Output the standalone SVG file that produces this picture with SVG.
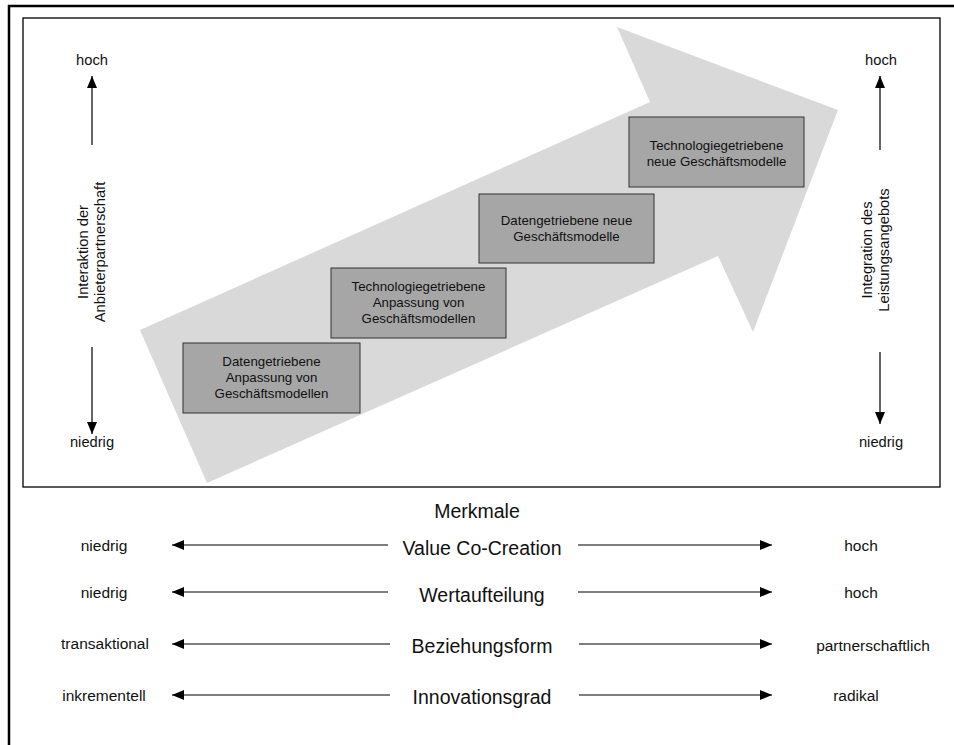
<svg xmlns="http://www.w3.org/2000/svg" width="954" height="745" viewBox="0 0 954 745">
<defs>
<style>
text{font-family:"Liberation Sans",Arial,sans-serif;fill:#111;}
.box{fill:#a6a6a6;stroke:#333;stroke-width:1;}
.bt{font-size:13.3px;text-anchor:middle;}
.ax{font-size:14.7px;text-anchor:middle;}
.lb{font-size:15.5px;text-anchor:middle;}
.mk{font-size:19.5px;text-anchor:middle;}
.ln{stroke:#000;stroke-width:1.2;fill:none;marker-end:url(#ah);}
</style>
<marker id="ah" markerUnits="userSpaceOnUse" markerWidth="12" markerHeight="10" refX="12" refY="5" orient="auto">
<path d="M0,0 L12,5 L0,10 z" fill="#000"/>
</marker>
</defs>
<rect width="954" height="745" fill="#fff"/>
<rect x="9" y="6" width="1000" height="800" fill="none" stroke="#000" stroke-width="2.5"/>
<rect x="23" y="18" width="917" height="469" fill="none" stroke="#000" stroke-width="1.3"/>
<g id="big-arrow">
<polygon points="140,330 650,102 617,27 838,110 753,332 718,256 207,483" fill="#d9d9d9"/>
</g>
<g id="box1">
<rect class="box" x="183" y="343" width="177" height="70"/>
<text class="bt" x="271.5" y="366">Datengetriebene</text>
<text class="bt" x="271.5" y="382">Anpassung von</text>
<text class="bt" x="271.5" y="398">Geschäftsmodellen</text>
</g>
<g id="box2">
<rect class="box" x="331" y="268" width="175" height="70"/>
<text class="bt" x="418.5" y="291">Technologiegetriebene</text>
<text class="bt" x="418.5" y="307">Anpassung von</text>
<text class="bt" x="418.5" y="323">Geschäftsmodellen</text>
</g>
<g id="box3">
<rect class="box" x="479" y="194" width="175" height="69"/>
<text class="bt" x="566.5" y="225">Datengetriebene neue</text>
<text class="bt" x="566.5" y="241">Geschäftsmodelle</text>
</g>
<g id="box4">
<rect class="box" x="629" y="117" width="175" height="70"/>
<text class="bt" x="716.5" y="150">Technologiegetriebene</text>
<text class="bt" x="716.5" y="166">neue Geschäftsmodelle</text>
</g>
<g id="left-axis">
<text class="ax" x="92" y="65">hoch</text>
<text class="ax" x="92" y="447">niedrig</text>
<text class="ax" transform="translate(88,252) rotate(-90)">Interaktion der</text>
<text class="ax" transform="translate(105,252) rotate(-90)">Anbieterpartnerschaft</text>
</g>
<g id="right-axis">
<text class="ax" x="881" y="65">hoch</text>
<text class="ax" x="881" y="447">niedrig</text>
<text class="ax" transform="translate(872,250) rotate(-90)">Integration des</text>
<text class="ax" transform="translate(889,250) rotate(-90)">Leistungsangebots</text>
</g>
<g id="merkmale">
<text class="mk" x="477" y="518">Merkmale</text>
<text class="mk" x="482" y="555">Value Co-Creation</text>
<text class="mk" x="482" y="602">Wertaufteilung</text>
<text class="mk" x="482" y="653">Beziehungsform</text>
<text class="mk" x="482" y="704">Innovationsgrad</text>
<text class="lb" x="104" y="551">niedrig</text>
<text class="lb" x="104" y="598">niedrig</text>
<text class="lb" x="105" y="649">transaktional</text>
<text class="lb" x="104" y="701">inkrementell</text>
<text class="lb" x="861" y="551">hoch</text>
<text class="lb" x="861" y="598">hoch</text>
<text class="lb" x="873" y="651">partnerschaftlich</text>
<text class="lb" x="856" y="701">radikal</text>
</g>
<g id="connectors">
<line class="ln" x1="92" y1="145" x2="92" y2="76"/>
<line class="ln" x1="92" y1="347" x2="92" y2="434"/>
<line class="ln" x1="880" y1="150" x2="880" y2="76"/>
<line class="ln" x1="880" y1="352" x2="880" y2="424"/>
<line class="ln" x1="388" y1="545" x2="172" y2="545"/>
<line class="ln" x1="578" y1="545" x2="772" y2="545"/>
<line class="ln" x1="388" y1="592" x2="172" y2="592"/>
<line class="ln" x1="578" y1="592" x2="772" y2="592"/>
<line class="ln" x1="390" y1="644" x2="172" y2="644"/>
<line class="ln" x1="579" y1="644" x2="772" y2="644"/>
<line class="ln" x1="390" y1="695" x2="172" y2="695"/>
<line class="ln" x1="579" y1="695" x2="772" y2="695"/>
</g>
</svg>
